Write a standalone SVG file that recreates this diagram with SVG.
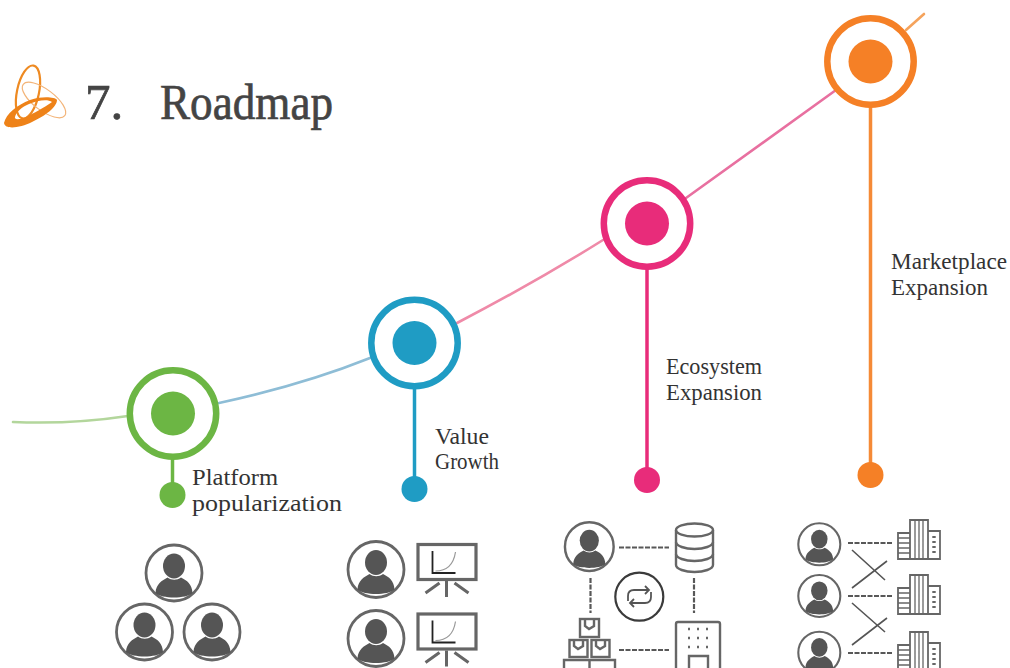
<svg xmlns="http://www.w3.org/2000/svg" width="1010" height="668" viewBox="0 0 1010 668">
<style>
text{font-family:"Liberation Serif",serif}
.title{font-size:51px;fill:#444;stroke:#444;stroke-width:.7}
.lbl{font-size:23.500px;fill:#333}
.line{fill:none;stroke-width:2.600;stroke-linecap:round}
.stem{fill:none;stroke-width:3.500}
.ring{fill:#fff;stroke-width:6.500}
.dash{stroke:#595959;stroke-width:2.200;stroke-dasharray:5 1.500;fill:none}
.ic{fill:none;stroke:#666;stroke-width:2.400}
.cross{stroke:#555;stroke-width:1.600;fill:none}
</style>
<defs>
<filter id="soft" x="-5%" y="-5%" width="110%" height="110%"><feGaussianBlur stdDeviation="0.45"/></filter>
<symbol id="person" overflow="visible">
<circle r="28" fill="#fff" stroke="#666" stroke-width="2.800"/>
<ellipse cx="0" cy="-7" rx="11" ry="12.500" fill="#555"/>
<path d="M-18.500,20C-18,11-12,7.500-6.500,4.500C-2.500,7.500,3,7.500,7,4.500C13,7.500,18,11,18.500,20C12,26-12,26-18.500,20Z" fill="#555"/>
</symbol>
<symbol id="board" overflow="visible">
<rect x="1.500" y="1.500" width="58" height="35" fill="#fff" stroke="#666" stroke-width="3.200"/>
<path d="M16,8V30H39" fill="none" stroke="#222" stroke-width="1.800"/>
<path d="M19,28C30,28,37,22,39,9" fill="none" stroke="#999" stroke-width="1.200"/>
<path d="M30,38V54M23,40L9,50M38,40L52,50" fill="none" stroke="#666" stroke-width="3"/>
</symbol>
<symbol id="building" overflow="visible">
<path d="M12,39V0H30V39ZM0,39V13H12V39ZM30,39V11H42V39Z" fill="#fff" stroke="#666" stroke-width="1.800"/>
<path d="M17,0V39M21,0V39M25,0V39M0,18H12M0,23H12M0,28H12M0,33H12" stroke="#666" stroke-width="1.300" fill="none"/>
<path d="M36,16V36" stroke="#666" stroke-width="3.400" stroke-dasharray="2 3" fill="none"/>
</symbol>
</defs>

<g id="connectors">
<path class="line" stroke="#b3d69c" d="M13,422C60,424,95,421,128,416"/>
<path class="line" stroke="#8ebdd6" d="M219,403C270,392,320,378,370,358"/>
<path class="line" stroke="#ef8aa8" d="M457,323C505,298,555,270,603,240"/>
<path class="line" stroke="#e870a0" d="M686,198L836,90"/>
<path class="line" stroke="#f5a35c" stroke-width="3.500" d="M906,30L924,14"/>
<path class="stem" stroke="#6cb644" d="M172.500,458V490"/>
<path class="stem" stroke="#1f9cc4" d="M414.500,388V485"/>
<path class="stem" stroke="#e82c7a" d="M647,269V475"/>
<path class="stem" stroke="#f58a36" d="M870.500,107V470"/>
</g>

<g id="logo" fill="none" stroke="#ee8a22">
<ellipse cx="28" cy="92" rx="11" ry="27" transform="rotate(12 28 92)" stroke-width="2.200"/>
<ellipse cx="44" cy="100" rx="26" ry="10.500" transform="rotate(37 44 100)" stroke-width="1.200" stroke="#f3b478"/>
<path fill="#ee8218" stroke="none" fill-rule="evenodd" d="M4,123C6,114,17,105,30,100C42,96,55,97,57,100C57,107,45,116,32,122C20,128,5,130,4,123ZM15,117C14,120,20,120,28,116C38,111,48,105,52,102C48,99,38,100,29,104C22,107,16,112,15,117Z"/>
</g>

<text id="title" class="title" y="119"><tspan x="85">7.</tspan><tspan x="160" textLength="173" lengthAdjust="spacingAndGlyphs">Roadmap</tspan></text>

<g id="node-platform">
<circle class="ring" cx="173" cy="413.500" r="43.200" stroke="#6cb644"/>
<circle cx="173" cy="413.500" r="22" fill="#6cb644"/>
<circle cx="172.500" cy="495" r="13" fill="#6cb644"/>
<text class="lbl" x="192" y="485" textLength="86" lengthAdjust="spacingAndGlyphs">Platform</text>
<text class="lbl" x="192" y="511" textLength="150" lengthAdjust="spacingAndGlyphs">popularization</text>
<g filter="url(#soft)">
<use href="#person" x="174" y="573"/>
<use href="#person" x="144.500" y="632"/>
<use href="#person" x="212" y="632"/>
</g>
</g>

<g id="node-value">
<circle class="ring" cx="414.500" cy="343" r="43.200" stroke="#1f9cc4"/>
<circle cx="414.500" cy="343" r="22" fill="#1f9cc4"/>
<circle cx="414.500" cy="489" r="13" fill="#1f9cc4"/>
<text class="lbl" x="435" y="444" textLength="54" lengthAdjust="spacingAndGlyphs">Value</text>
<text class="lbl" x="435" y="469" textLength="64" lengthAdjust="spacingAndGlyphs">Growth</text>
<g filter="url(#soft)">
<use href="#person" x="376" y="569.500"/>
<use href="#person" x="376" y="638.500"/>
<use href="#board" x="416.500" y="543"/>
<use href="#board" x="416.500" y="612.500"/>
</g>
</g>

<g id="node-ecosystem">
<circle class="ring" cx="647" cy="223.500" r="43.200" stroke="#e82c7a"/>
<circle cx="647" cy="223.500" r="22" fill="#e82c7a"/>
<circle cx="647" cy="480" r="13" fill="#e82c7a"/>
<text class="lbl" x="666" y="374" textLength="96" lengthAdjust="spacingAndGlyphs">Ecosystem</text>
<text class="lbl" x="666" y="400" textLength="96" lengthAdjust="spacingAndGlyphs">Expansion</text>
<g filter="url(#soft)">
<use href="#person" transform="translate(589.300 546.700) scale(.87)"/>
<path class="dash" d="M619,547.500H669M590.500,578V613M694,578V613M619,650H669"/>
<g class="ic">
<path d="M676,530V565C676,569,685,572,694.500,572C704,572,713,569,713,565V530"/>
<ellipse cx="694.500" cy="530" rx="18.500" ry="6.500"/>
<path d="M676,542C676,546,685,549,694.500,549C704,549,713,546,713,542M676,554C676,558,685,561,694.500,561C704,561,713,558,713,554"/>
<rect x="580" y="619" width="19" height="18"/>
<rect x="569.500" y="640" width="18" height="17"/>
<rect x="591.500" y="640" width="18" height="17"/>
<path d="M564,668V660H615V668M589.500,660V668M585,619V626L589,629L594,626V619M574,640V646L578,649L583,646V640M596,640V646L600,649L605,646V640"/>
<path d="M676,668V624Q676,622,678,622H718Q720,622,720,624V668M689,668V656H708V668"/>
</g>
<path d="M688,629h2M697,629h2M706,629h2M688,638h2M697,638h2M706,638h2M688,647h2M697,647h2M706,647h2" stroke="#666" stroke-width="2.500" fill="none"/>
<circle cx="639.300" cy="596.700" r="24" fill="none" stroke="#3a3a3a" stroke-width="2.200"/>
<path d="M628,601V596Q628,590,634,590H648M645,586L649,590L645,594M651,592V597Q651,603,645,603H631M634,599L630,603L634,607" fill="none" stroke="#555" stroke-width="1.800"/>
</g>
</g>

<g id="node-marketplace">
<circle class="ring" cx="870.500" cy="61.500" r="43.200" stroke="#f58026"/>
<circle cx="870.500" cy="61.500" r="22" fill="#f58026"/>
<circle cx="870.500" cy="475" r="13" fill="#f58026"/>
<text class="lbl" x="891" y="269" textLength="116" lengthAdjust="spacingAndGlyphs">Marketplace</text>
<text class="lbl" x="891" y="295" textLength="97" lengthAdjust="spacingAndGlyphs">Expansion</text>
<g filter="url(#soft)">
<use href="#person" transform="translate(819.300 544.300) scale(.75)"/>
<use href="#person" transform="translate(819.300 596) scale(.75)"/>
<use href="#person" transform="translate(819.300 652.700) scale(.75)"/>
<path class="dash" d="M848,543H892M848,596H892M848,653H892"/>
<path class="cross" d="M852,550L885,580M852,588L887,561M852,603L885,632M852,645L887,618"/>
<use href="#building" x="898" y="520"/>
<use href="#building" x="898" y="575"/>
<use href="#building" x="898" y="632"/>
</g>
</g>
</svg>
